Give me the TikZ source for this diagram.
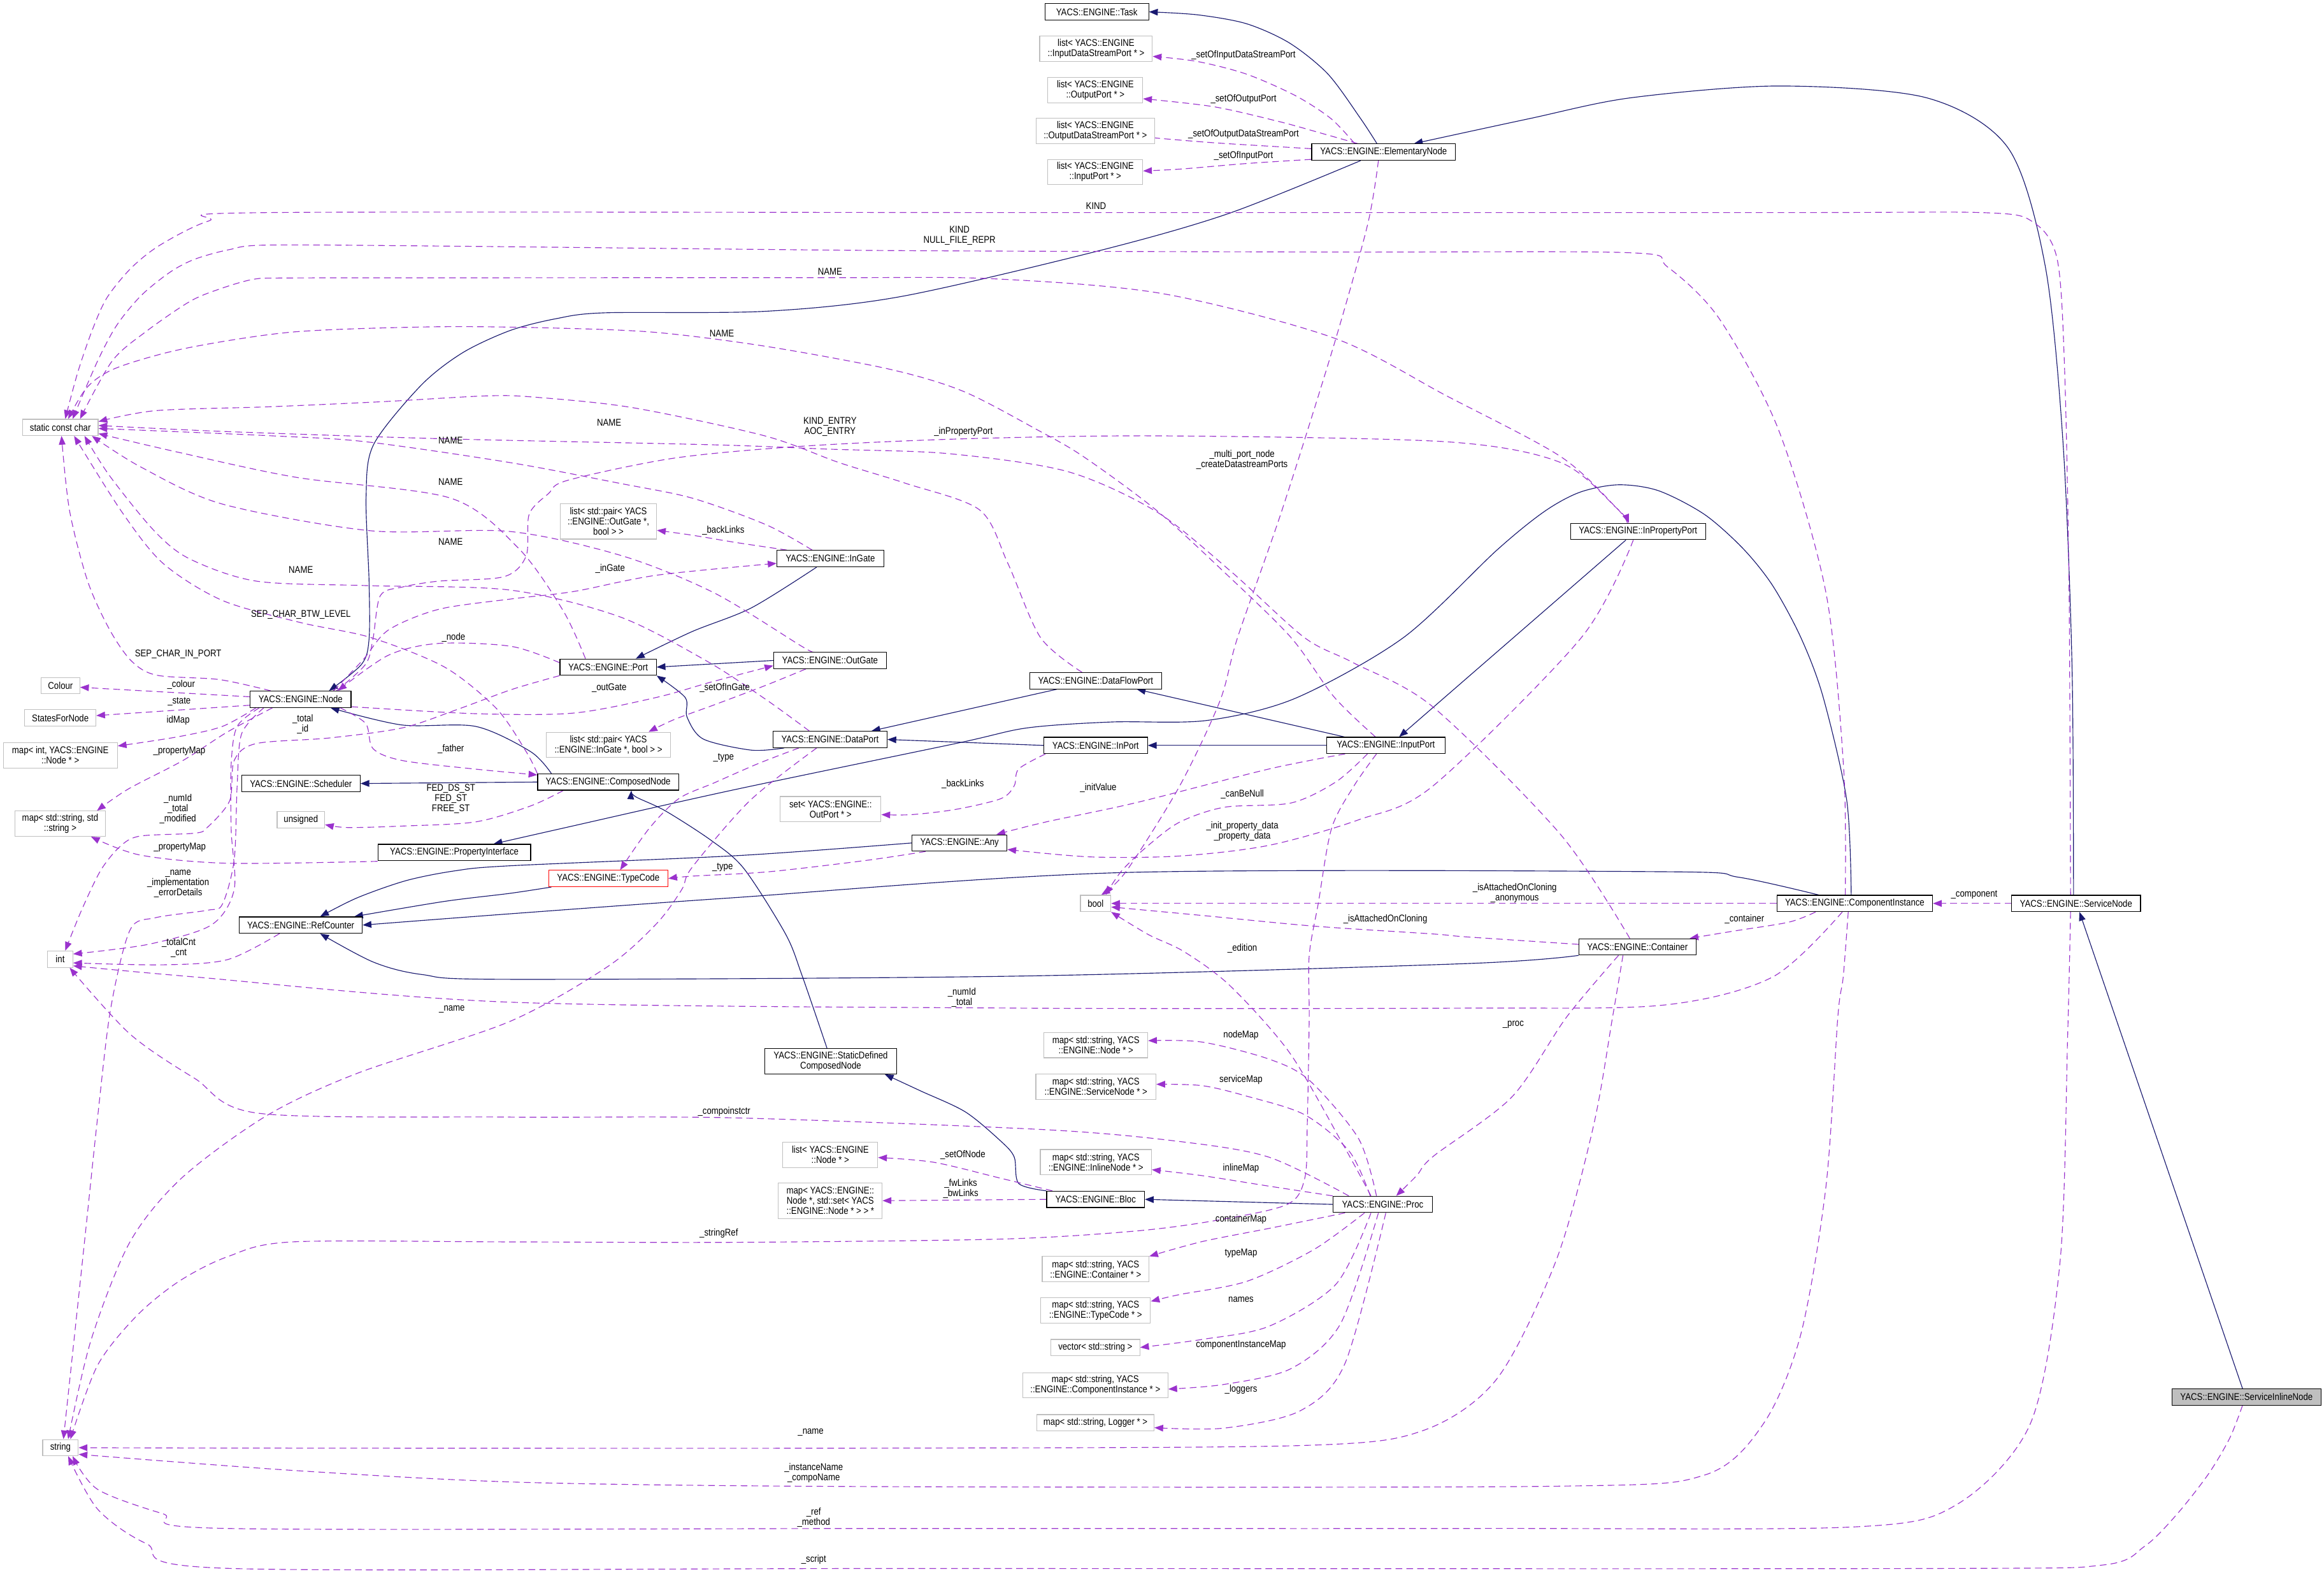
\documentclass[tikz,border=0pt]{standalone}
\usepackage{fontspec}
\setmainfont{Liberation Sans}[FakeStretch=0.86]
\usetikzlibrary{arrows.meta}
\definecolor{navy}{HTML}{191970}
\definecolor{purp}{HTML}{9A32CD}
\definecolor{gbord}{HTML}{BFBFBF}
\pgfdeclarelayer{bg}
\pgfsetlayers{bg,main}
\begin{document}
\begin{tikzpicture}[x=0.025cm,y=-0.025cm,font=\fontsize{4.7}{4.9}\selectfont,
  base/.style={inner sep=0pt,align=center,line width=0.35pt,fill=white,minimum height=0.275cm},
  cls/.style={base,draw=black},
  ext/.style={base,draw=gbord},
  h2/.style={minimum height=0.425cm},
  h3/.style={minimum height=0.6cm},
  lbl/.style={inner sep=0pt,align=center},
  inh/.style={draw=navy,line width=0.35pt,-{Triangle[length=4.2pt,width=3.2pt]}},
  dep/.style={draw=purp,line width=0.35pt,dash pattern=on 3.2pt off 2pt,-{Triangle[length=4.2pt,width=3.2pt]}}]
\useasboundingbox (0,0) rectangle (1568,1060);

% ---------- nodes ----------
\node[cls,minimum width=1.75cm] (task) at (740,8) {YACS::ENGINE::Task};
\node[ext,h2,minimum width=1.9cm] (lidsp) at (739.5,32.8) {list< YACS::ENGINE\\::InputDataStreamPort * >};
\node[ext,h2,minimum width=1.6cm] (lop) at (739,60.8) {list< YACS::ENGINE\\::OutputPort * >};
\node[ext,h2,minimum width=2.0cm] (lodsp) at (739,88.4) {list< YACS::ENGINE\\::OutputDataStreamPort * >};
\node[ext,h2,minimum width=1.6cm] (lip) at (739,116) {list< YACS::ENGINE\\::InputPort * >};
\node[cls,minimum width=2.425cm] (elem) at (933.5,102.6) {YACS::ENGINE::ElementaryNode};
\node[ext,minimum width=1.275cm] (scc) at (40.7,288.3) {static const char};
\node[ext,h3,minimum width=1.625cm] (lpog) at (410.5,351.6) {list< std::pair< YACS\\::ENGINE::OutGate *,\\bool > >};
\node[cls,minimum width=1.8cm] (ingate) at (560.2,376.8) {YACS::ENGINE::InGate};
\node[cls,minimum width=2.275cm] (inpp) at (1105.2,358.5) {YACS::ENGINE::InPropertyPort};
\node[ext,minimum width=0.65cm] (colour) at (40.8,462.5) {Colour};
\node[ext,minimum width=1.2cm] (sfn) at (40.7,484.2) {StatesForNode};
\node[ext,h2,minimum width=1.925cm] (mapint) at (40.7,509.5) {map< int, YACS::ENGINE\\::Node * >};
\node[cls,minimum width=1.7cm] (node) at (202.8,471.7) {YACS::ENGINE::Node};
\node[cls,minimum width=1.625cm] (port) at (410.3,450) {YACS::ENGINE::Port};
\node[cls,minimum width=1.9cm] (outgate) at (560,445.5) {YACS::ENGINE::OutGate};
\node[cls,minimum width=2.225cm] (dfp) at (739.2,459.2) {YACS::ENGINE::DataFlowPort};
\node[ext,h2,minimum width=2.1cm] (lpig) at (410.5,502.4) {list< std::pair< YACS\\::ENGINE::InGate *, bool > >};
\node[cls,minimum width=1.925cm] (dataport) at (560,498.8) {YACS::ENGINE::DataPort};
\node[cls,minimum width=1.75cm] (inport) at (739.2,502.8) {YACS::ENGINE::InPort};
\node[cls,minimum width=2.0cm] (inputport) at (935,502.8) {YACS::ENGINE::InputPort};
\node[cls,minimum width=2.0cm] (sched) at (203,528.5) {YACS::ENGINE::Scheduler};
\node[cls,minimum width=2.375cm] (composed) at (410.3,527.5) {YACS::ENGINE::ComposedNode};
\node[ext,minimum width=0.8cm] (unsig) at (203,553) {unsigned};
\node[ext,h2,minimum width=1.7cm] (setop) at (560.4,545.8) {set< YACS::ENGINE::\\OutPort * >};
\node[ext,h2,minimum width=1.525cm] (mapss) at (40.6,555.6) {map< std::string, std\\::string >};
\node[cls,minimum width=2.575cm] (propif) at (306.5,575) {YACS::ENGINE::PropertyInterface};
\node[cls,minimum width=1.6cm] (any) at (647.4,568.6) {YACS::ENGINE::Any};
\node[base,draw=red,minimum width=2.0125cm] (typecode) at (410.4,592.6) {YACS::ENGINE::TypeCode};
\node[ext,minimum width=0.5125cm] (bool) at (739.2,609.4) {bool};
\node[cls,minimum width=2.075cm] (refc) at (202.9,624) {YACS::ENGINE::RefCounter};
\node[cls,minimum width=2.625cm] (ci) at (1251.4,609.4) {YACS::ENGINE::ComponentInstance};
\node[cls,minimum width=2.175cm] (sn) at (1400.7,609.4) {YACS::ENGINE::ServiceNode};
\node[cls,minimum width=1.975cm] (cont) at (1104.8,638.7) {YACS::ENGINE::Container};
\node[ext,minimum width=0.425cm] (int) at (40.6,647) {int};
\node[cls,h2,minimum width=2.225cm] (sdcn) at (560.5,715.9) {YACS::ENGINE::StaticDefined\\ComposedNode};
\node[ext,h2,minimum width=1.75cm] (mapnode) at (739.4,705) {map< std::string, YACS\\::ENGINE::Node * >};
\node[ext,h2,minimum width=2.025cm] (mapsvc) at (739.4,733) {map< std::string, YACS\\::ENGINE::ServiceNode * >};
\node[ext,h2,minimum width=1.6cm] (lnode) at (560.2,779) {list< YACS::ENGINE\\::Node * >};
\node[ext,h2,minimum width=1.875cm] (mapinl) at (739.4,783.9) {map< std::string, YACS\\::ENGINE::InlineNode * >};
\node[ext,h3,minimum width=1.75cm] (mapfw) at (560.2,810) {map< YACS::ENGINE::\\Node *, std::set< YACS\\::ENGINE::Node * > > *};
\node[cls,minimum width=1.65cm] (bloc) at (739.2,809) {YACS::ENGINE::Bloc};
\node[cls,minimum width=1.675cm] (proc) at (932.9,812.4) {YACS::ENGINE::Proc};
\node[ext,h2,minimum width=1.8cm] (mapcont) at (739.2,856) {map< std::string, YACS\\::ENGINE::Container * >};
\node[ext,h2,minimum width=1.85cm] (maptc) at (739.2,884) {map< std::string, YACS\\::ENGINE::TypeCode * >};
\node[ext,minimum width=1.5cm] (vecs) at (739,909) {vector< std::string >};
\node[ext,h2,minimum width=2.45cm] (mapci) at (739,934.4) {map< std::string, YACS\\::ENGINE::ComponentInstance * >};
\node[ext,minimum width=1.975cm] (maplog) at (739.1,959.7) {map< std::string, Logger * >};
\node[base,draw=black,fill=gbord,minimum width=2.515cm] (sin) at (1515.7,942.3) {YACS::ENGINE::ServiceInlineNode};
\node[ext,minimum width=0.6cm] (string) at (40.8,976.5) {string};

\begin{pgfonlayer}{bg}
\fill[white] (0,0) rectangle (1568,1060);
% ---------- inheritance ----------
\draw[inh] plot[smooth,tension=.5] coordinates {(elem.north -| 929,0) (918,80) (896,50) (870,29) (841,16) (808,10) (task.east)};
\draw[inh] plot[smooth,tension=.5] coordinates {(sn.north -| 1399,0) (1398,450) (1392,300) (1380,180) (1355,100) (1300,66) (1200,58) (1100,66) (1032,80) (elem.north -| 954,0)};
\draw[inh] plot[smooth,tension=.5] coordinates {(elem.south -| 918,0) (829,144) (742,169) (608,200) (516,210) (408,211) (375,215) (344,223) (312,238) (284,260) (252,300) (247,335) (249,392) (249,431) (244,448) (node.north -| 222,0)};
\draw[inh] plot[smooth,tension=.5] coordinates {(composed.north -| 372,0) (358,507) (321,490) (271,489) (node.south -| 223,0)};
\draw[inh] (composed.west) -- (sched.east);
\draw[inh] plot[smooth,tension=.5] coordinates {(ingate.south -| 551,0) (507,410) (467,426) (port.north -| 429,0)};
\draw[inh] (outgate.west) -- (port.east);
\draw[inh] plot[smooth,tension=.5] coordinates {(dataport.south -| 529,0) (507,506) (474.5,498.5) (463.5,483.6) (462.3,470.5) (port.south east)};
\draw[inh] (dfp.south -| 713,0) -- (dataport.north -| 588,0);
\draw[inh] (inport.west) -- (dataport.east);
\draw[inh] (inputport.west) -- (inport.east);
\draw[inh] (inputport.north -| 907,0) -- (dfp.south -| 767,0);
\draw[inh] (inpp.south -| 1097,0) -- (inputport.north -| 944,0);
\draw[inh] plot[smooth,tension=.5] coordinates {(ci.north -| 1249,0) (1246,540) (1230,470) (1215,430) (1196,395) (1176,370) (1150,347) (1119,331) (1092,327) (1066,332) (1042,345) (1010,371) (947,430) (874,471) (814,486) (750,487) (693,491) (645,501.5) (494,533) (380,558.6) (propif.north -| 333,0)};
\draw[inh] plot[smooth,tension=.5] coordinates {(any.west) (500,577) (344,584) (307,587.4) (274,594) (241,605.6) (refc.north -| 216,0)};
\draw[inh] plot[smooth,tension=.5] coordinates {(typecode.south -| 372,0) (344,602.6) (300,608) (refc.north -| 239,0)};
\draw[inh] plot[smooth,tension=.5] coordinates {(ci.north -| 1227,0) (1173,591.7) (1121.6,588) (756.7,588.6) (494,605.6) (344,616.4) (refc.east)};
\draw[inh] plot[smooth,tension=.5] coordinates {(cont.south west) (988.6,650) (687.7,658.4) (343.9,660.6) (285,657.4) (252,649) (refc.south -| 216,0)};
\draw[inh] plot[smooth,tension=.5] coordinates {(sdcn.north -| 558,0) (541,657.6) (530,630) (502,586) (480,567) (449,547) (429,537.5) (composed.south -| 426,0)};
\draw[inh] plot[smooth,tension=.5] coordinates {(bloc.north west) (687.3,798.3) (684.3,780.5) (675.3,769.8) (651.3,750) (621,735.8) (sdcn.south -| 597,0)};
\draw[inh] (proc.west) -- (bloc.east);
\draw[inh] (sin.north -| 1513,0) -- (sn.south -| 1403,0);

% ---------- usage (dashed) ----------
\draw[dep] plot[smooth,tension=.5] coordinates {(elem.north -| 914,0) (898,80) (874,64.5) (841,50) (808,41.5) (lidsp.east |- 0,38)};
\draw[dep] plot[smooth,tension=.5] coordinates {(elem.north -| 916,0) (892,90) (863,82) (819,72) (lop.east |- 0,66.6)};
\draw[dep] plot[smooth,tension=.5] coordinates {(elem.west |- 0,100.3) (863,99) (819,96.3) (782,93.3) (lodsp.east |- 0,92.9)};
\draw[dep] plot[smooth,tension=.5] coordinates {(elem.west |- 0,107.5) (841,110.3) (797,114) (lip.east |- 0,115.3)};

\draw[dep] plot[smooth,tension=.5] coordinates {(sn.north -| 1397,0) (1396,400) (1393,250) (1388,175) (1372,150) (1340,143.5) (1200,143.4) (700,143.4) (181,143.4) (141,149) (108.5,165) (88.8,180.5) (72.3,200.6) (62.5,222) (52.6,250.7) (scc.north -| 44,0)};
\draw[dep] plot[smooth,tension=.5] coordinates {(ci.north -| 1245,0) (1244,520) (1232,400) (1200,290) (1160,215) (1125,180) (1100,170.5) (900,170) (600,169) (300,166) (181,165.3) (154.6,168.4) (131.5,174.8) (115,183.4) (95.4,199.2) (78.9,219.2) (65.8,243.6) (scc.north -| 49,0)};
\draw[dep] plot[smooth,tension=.5] coordinates {(inpp.north -| 1098,0) (1091,343) (1053,308) (976,267) (900,228) (784,198) (669,188) (560,187.3) (300,187.4) (194,187.5) (171,188.4) (148,195) (128,203.4) (98.7,223.5) (75.6,243.6) (scc.north -| 54,0)};
\draw[dep] plot[smooth,tension=.5] coordinates {(inputport.north -| 928,0) (900,470) (871,430) (825,385) (780,344) (731,308) (700,290) (650,264) (600,249) (516,233.5) (440,224) (362,221) (289,220.5) (197,224) (125,235) (79,248) (59,261) (scc.north -| 46,0)};
\draw[dep] plot[smooth,tension=.5] coordinates {(dfp.north -| 730,0) (702,430) (680,380) (661,344) (611,326) (566,312) (516,294) (427,275) (362,268) (329,267) (257,271) (181,274.4) (105,277) (scc.east |- 0,284.4)};
\draw[dep] plot[smooth,tension=.5] coordinates {(ingate.north -| 548,0) (517,354) (467,336) (418,326) (344,312) (247,298) (184,294) (scc.east |- 0,289)};
\draw[dep] plot[smooth,tension=.5] coordinates {(port.north -| 395,0) (380,412) (350,370) (304,336) (200,322) (120,305) (scc.east |- 0,292.5)};
\draw[dep] plot[smooth,tension=.5] coordinates {(outgate.north -| 549,0) (541,436) (482,400) (420,375) (344,358.5) (250,358) (150,340) (95,315) (scc.south -| 62,0)};
\draw[dep] plot[smooth,tension=.5] coordinates {(dataport.north -| 546,0) (517,472) (477,446) (418,416) (344,398) (247,395) (173,392) (128,377) (104,358) (74,321) (scc.south -| 57,0)};
\draw[dep] plot[smooth,tension=.5] coordinates {(node.north -| 182.6,0) (148,458.4) (106,455.5) (88.8,446) (74,424.8) (59.2,392.2) (46.9,344.3) (scc.south -| 41.5,0)};
\draw[dep] plot[smooth,tension=.5] coordinates {(composed.north west) (355,507) (335,478) (300,450) (250,430) (203,420) (150,405) (110,380) (82,345) (scc.south -| 50,0)};
\draw[dep] plot[smooth,tension=.5] coordinates {(cont.north -| 1099.6,0) (1053,563) (967,477) (913,447) (880,430) (830,385) (780,345) (720,318) (640,306) (560,303) (480,300) (300,296) (150,291) (scc.east |- 0,287)};

\draw[dep] plot[smooth,tension=.5] coordinates {(port.west |- 0,447) (345,436) (296,434) (262,442) (node.north -| 228,0)};
\draw[dep] plot[smooth,tension=.5] coordinates {(node.north -| 225,0) (245,445) (262,425) (296,411) (345,404) (387,399) (443,388) (ingate.west |- 0,380)};
\draw[dep] plot[smooth,tension=.5] coordinates {(node.east |- 0,476.7) (320.8,481.4) (386.9,481) (442.6,470.5) (480,460) (outgate.west |- 0,449)};
\draw[dep] plot[smooth,tension=.5] coordinates {(node.south -| 229.5,0) (246.7,488) (251.7,505) (271.4,513) (320.8,518.8) (composed.west |- 0,522.7)};
\draw[dep] plot[smooth,tension=.5] coordinates {(node.north -| 227,0) (246.7,448) (251.7,430.6) (256.6,401.8) (271.4,396) (296,392) (340,389) (355,375) (357,347) (370,333) (383,324) (455,309) (541,301) (650,296) (784,294) (976,298) (1053,312) (1091,343) (inpp.north -| 1099,0)};
\draw[dep] (node.west |- 0,470) -- (colour.east |- 0,463.6);
\draw[dep] (node.west |- 0,475.7) -- (sfn.east |- 0,482.7);
\draw[dep] plot[smooth,tension=.5] coordinates {(node.south -| 172.7,0) (150,490) (120,497) (mapint.east |- 0,503.2)};
\draw[dep] plot[smooth,tension=.5] coordinates {(node.south -| 183.8,0) (153,494) (123.4,513) (86.4,532.3) (mapss.north -| 65.4,0)};
\draw[dep] plot[smooth,tension=.5] coordinates {(propif.west |- 0,581) (153.5,582.3) (94.3,576.7) (mapss.south -| 61.4,0)};
\draw[dep] plot[smooth,tension=.5] coordinates {(node.south -| 175,0) (160,490) (156,515) (156,560) (158,600) (142.5,624) (100,637) (int.east |- 0,643.5)};
\draw[dep] plot[smooth,tension=.5] coordinates {(node.south -| 178,0) (163,495) (160,530) (158,580) (150,610) (140,614) (105,619) (87.7,627.4) (74.6,680.8) (65.8,754.2) (57,837.7) (string.north -| 42.8,0)};
\draw[dep] plot[smooth,tension=.5] coordinates {(port.south west) (345.5,465) (308.4,478.6) (271.4,491) (222,497.8) (172.7,501.6) (158,513) (155,540) (140,558) (131.5,562) (94.3,564) (81,571) (68,587) (55,614) (int.north -| 44,0)};
\draw[dep] plot[smooth,tension=.5] coordinates {(refc.south -| 188.6,0) (153.5,647.3) (109.7,650.8) (int.east |- 0,649.5)};
\draw[dep] plot[smooth,tension=.5] coordinates {(ci.south -| 1243,0) (1196,659) (1122,678) (988,680) (688,680) (344,676) (131.5,659) (int.east |- 0,651.5)};
\draw[dep] plot[smooth,tension=.5] coordinates {(proc.north -| 910,0) (856,780.5) (796,770) (705,762) (494,754) (344,753.5) (175,751) (131.5,727.5) (87.7,697.5) (int.south -| 47,0)};

\draw[dep] plot[smooth,tension=.5] coordinates {(dataport.south -| 551,0) (506,540) (467,585) (460,600) (443,623) (410,652) (344,689) (241,724) (180,752.5) (122.8,794.4) (87.7,837.7) (61.4,904) (string.north -| 46,0)};
\draw[dep] plot[smooth,tension=.5] coordinates {(inputport.south -| 928.7,0) (913.6,530) (898.4,558.8) (889.5,609) (883.3,644.7) (883.3,687.7) (882,759) (880.3,794.8) (868.3,812.5) (820,823.3) (765.8,830.4) (675.3,835.8) (494.3,838) (343.9,837.7) (197.3,837.7) (153.5,847.7) (120.6,864.4) (92.1,887.7) (65.8,921) (string.north -| 47.5,0)};
\draw[dep] plot[smooth,tension=.5] coordinates {(cont.south -| 1095,0) (1088,686) (1075,760) (1050,850) (1010,930) (960,965) (880,975) (600,976.8) (200,976.8) (string.east)};
\draw[dep] plot[smooth,tension=.5] coordinates {(ci.south -| 1247,0) (1243.6,659) (1240,685.6) (1232,800) (1215,900) (1190,960) (1150,995) (1050,1002.5) (600,1002.8) (357,1000) (200,992) (string.east |- 0,981)};
\draw[dep] plot[smooth,tension=.5] coordinates {(sn.south -| 1397,0) (1395,700) (1390,850) (1370,960) (1320,1015) (1250,1030) (1000,1031) (600,1031) (153.5,1031) (109.7,1021) (65.8,1004.6) (string.south -| 49,0)};
\draw[dep] plot[smooth,tension=.5] coordinates {(sin.south -| 1513,0) (1504.4,970) (1490,994.3) (1468.6,1021.6) (1447,1043) (1418.4,1055.7) (1300,1058) (600,1058) (153.5,1057.9) (98.7,1041.2) (65.8,1017.9) (string.south -| 46,0)};

\draw[dep] plot[smooth,tension=.5] coordinates {(dataport.south -| 539,0) (511.7,515) (482,528) (458,538.7) (438,558.8) (typecode.north -| 418.4,0)};
\draw[dep] plot[smooth,tension=.5] coordinates {(any.south -| 624.5,0) (585,580.3) (519,588) (466.7,591) (typecode.east)};
\draw[dep] plot[smooth,tension=.5] coordinates {(inport.south -| 705.4,0) (687.3,518.7) (684.3,530) (675.3,538.7) (645.2,545.9) (615,549.5) (setop.east |- 0,549.5)};
\draw[dep] plot[smooth,tension=.5] coordinates {(inputport.south -| 907.5,0) (856.2,518.7) (765.8,541.6) (705.4,554.5) (any.north -| 672.3,0)};
\draw[dep] plot[smooth,tension=.5] coordinates {(inputport.south -| 922.6,0) (901.5,527.3) (871.2,541.6) (826.1,544.5) (796,554.5) (774.8,570.2) (756.7,587.5) (bool.north -| 746,0)};
\draw[dep] plot[smooth,tension=.5] coordinates {(elem.south -| 930,0) (922.6,152) (899.6,234) (865,344) (835,430) (823,473) (796,530) (760,587.5) (bool.north -| 743,0)};
\draw[dep] plot[smooth,tension=.5] coordinates {(inpp.south -| 1102,0) (1067,430) (967,530) (916.6,553) (856.2,570.2) (796,577.4) (735.6,578) (any.east |- 0,573)};
\draw[dep] (ci.west) -- (bool.east);
\draw[dep] plot[smooth,tension=.5] coordinates {(cont.west |- 0,637) (988.6,631.9) (967,630) (886.4,624.7) (811,617.5) (bool.east |- 0,611.8)};
\draw[dep] plot[smooth,tension=.5] coordinates {(proc.north -| 925,0) (905,770) (870,710) (830,665) (799,642) (774.8,630.4) (bool.south east)};
\draw[dep] plot[smooth,tension=.5] coordinates {(cont.south -| 1092,0) (1057,686) (1020,740) (967,780) (955.8,793) (proc.north -| 942,0)};
\draw[dep] plot[smooth,tension=.5] coordinates {(ci.south -| 1225,0) (1207,622) (1170,628) (cont.north -| 1140,0)};
\draw[dep] (sn.west) -- (ci.east);
\draw[dep] plot[smooth,tension=.5] coordinates {(ingate.north -| 531,0) (497,366) (467,361) (lpog.east |- 0,357.7)};
\draw[dep] plot[smooth,tension=.5] coordinates {(outgate.south -| 543.7,0) (516.6,462.3) (482,475.4) (455,485.3) (lpig.north -| 437.6,0)};
\draw[dep] plot[smooth,tension=.5] coordinates {(composed.south -| 380,0) (357.8,543.7) (320.8,554.4) (271.4,557.2) (234.4,558.2) (unsig.east |- 0,556.2)};

\draw[dep] plot[smooth,tension=.5] coordinates {(bloc.north -| 710,0) (675.3,794.8) (630,784) (lnode.east |- 0,780.8)};
\draw[dep] (bloc.west) -- (mapfw.east |- 0,809.9);
\draw[dep] plot[smooth,tension=.5] coordinates {(proc.north -| 928.7,0) (916.6,768) (883.4,728.7) (856.2,714.4) (811,702.9) (mapnode.east |- 0,702)};
\draw[dep] plot[smooth,tension=.5] coordinates {(proc.north -| 924.5,0) (910.6,776.9) (880.4,752) (841.2,739.4) (811,732.3) (mapsvc.east |- 0,731.4)};
\draw[dep] plot[smooth,tension=.5] coordinates {(proc.north west) (856.2,800.1) (811,793) (mapinl.east |- 0,789)};
\draw[dep] plot[smooth,tension=.5] coordinates {(proc.south -| 907.5,0) (856.2,828.6) (811,837.5) (mapcont.east |- 0,847.4)};
\draw[dep] plot[smooth,tension=.5] coordinates {(proc.south -| 920.6,0) (886.4,842.9) (841.2,864.3) (796,873.2) (maptc.east |- 0,877.8)};
\draw[dep] plot[smooth,tension=.5] coordinates {(proc.south -| 925,0) (901.5,866.1) (856.2,894.6) (811,903.5) (vecs.east |- 0,908.9)};
\draw[dep] plot[smooth,tension=.5] coordinates {(proc.south -| 930,0) (904.5,892.8) (871.2,923.1) (826.1,933.8) (mapci.east |- 0,937)};
\draw[dep] plot[smooth,tension=.5] coordinates {(proc.south -| 935,0) (907.5,919.6) (877.3,951.6) (826.1,963.3) (maplog.east |- 0,963)};
\end{pgfonlayer}

% ---------- labels ----------
\node[lbl] (l1) at (839,37.3) {\_setOfInputDataStreamPort};
\node[lbl] (l2) at (839,66.8) {\_setOfOutputPort};
\node[lbl] (l3) at (839,90.6) {\_setOfOutputDataStreamPort};
\node[lbl] (l4) at (839,104.9) {\_setOfInputPort};
\node[lbl] (l5) at (739.5,139) {KIND};
\node[lbl] (l6) at (647.4,159) {KIND\\NULL\_FILE\_REPR};
\node[lbl] (l7) at (560,183) {NAME};
\node[lbl] (l8) at (487,225) {NAME};
\node[lbl] (l9) at (411,285) {NAME};
\node[lbl] (l10) at (304,297) {NAME};
\node[lbl] (l11) at (304,325) {NAME};
\node[lbl] (l12) at (304,365.4) {NAME};
\node[lbl] (l13) at (203,384.5) {NAME};
\node[lbl] (l14) at (120.2,441.1) {SEP\_CHAR\_IN\_PORT};
\node[lbl] (l15) at (203,414.6) {SEP\_CHAR\_BTW\_LEVEL};
\node[lbl] (l16) at (560,288) {KIND\_ENTRY\\AOC\_ENTRY};
\node[lbl] (l17) at (306,430) {\_node};
\node[lbl] (l18) at (411.7,383.7) {\_inGate};
\node[lbl] (l19) at (411,463.9) {\_outGate};
\node[lbl] (l20) at (304.2,505.4) {\_father};
\node[lbl] (l21) at (650,291) {\_inPropertyPort};
\node[lbl] (l22) at (122.2,461.9) {\_colour};
\node[lbl] (l23) at (120.9,473.3) {\_state};
\node[lbl] (l24) at (120.2,485.9) {idMap};
\node[lbl] (l25) at (121,506.8) {\_propertyMap};
\node[lbl] (l26) at (121.3,571.7) {\_propertyMap};
\node[lbl] (l27) at (120,545.5) {\_numId\\\_total\\\_modified};
\node[lbl] (l28) at (120.2,596.3) {\_name\\\_implementation\\\_errorDetails};
\node[lbl] (l29) at (204.3,488.3) {\_total\\\_id};
\node[lbl] (l30) at (120.6,639.5) {\_totalCnt\\\_cnt};
\node[lbl] (l31) at (649,672.7) {\_numId\\\_total};
\node[lbl] (l32) at (488.6,749.8) {\_compoinstctr};
\node[lbl] (l33) at (304.9,680.8) {\_name};
\node[lbl] (l34) at (485,832) {\_stringRef};
\node[lbl] (l35) at (547,966) {\_name};
\node[lbl] (l36) at (549,993.5) {\_instanceName\\\_compoName};
\node[lbl] (l37) at (549,1023.5) {\_ref\\\_method};
\node[lbl] (l38) at (549,1052) {\_script};
\node[lbl] (l39) at (488.2,510.9) {\_type};
\node[lbl] (l40) at (487.5,585) {\_type};
\node[lbl] (l41) at (649.6,529) {\_backLinks};
\node[lbl] (l42) at (741,531.6) {\_initValue};
\node[lbl] (l43) at (838.2,535.9) {\_canBeNull};
\node[lbl] (l44) at (838,310.3) {\_multi\_port\_node\\\_createDatastreamPorts};
\node[lbl] (l45) at (838.2,560.6) {\_init\_property\_data\\\_property\_data};
\node[lbl] (l46) at (1022,602.6) {\_isAttachedOnCloning\\\_anonymous};
\node[lbl] (l47) at (934.7,620.1) {\_isAttachedOnCloning};
\node[lbl] (l48) at (838.2,639.7) {\_edition};
\node[lbl] (l49) at (1021,691) {\_proc};
\node[lbl] (l50) at (1177,620) {\_container};
\node[lbl] (l51) at (1332,603.5) {\_component};
\node[lbl] (l52) at (488,358) {\_backLinks};
\node[lbl] (l53) at (489,463.9) {\_setOfInGate};
\node[lbl] (l54) at (304.2,539) {FED\_DS\_ST\\FED\_ST\\FREE\_ST};
\node[lbl] (l55) at (649.6,779.2) {\_setOfNode};
\node[lbl] (l56) at (648.2,802) {\_fwLinks\\\_bwLinks};
\node[lbl] (l57) at (837.3,698.4) {nodeMap};
\node[lbl] (l58) at (837.3,728.5) {serviceMap};
\node[lbl] (l59) at (837.3,788) {inlineMap};
\node[lbl] (l60) at (837.3,822.4) {containerMap};
\node[lbl] (l61) at (837.3,845.4) {typeMap};
\node[lbl] (l62) at (837.3,876.4) {names};
\node[lbl] (l63) at (837.3,907.4) {componentInstanceMap};
\node[lbl] (l64) at (837.3,937.4) {\_loggers};
\end{tikzpicture}
\end{document}
